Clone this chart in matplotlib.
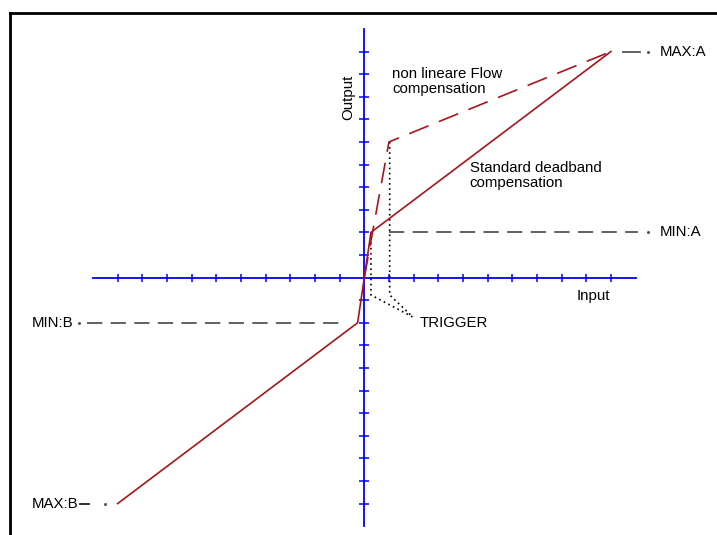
import matplotlib
matplotlib.use("Agg")
import matplotlib.pyplot as plt
import numpy as np

plt.rcParams['font.family'] = ['Liberation Sans', 'DejaVu Sans']
plt.rcParams['lines.scale_dashes'] = False

# Data (in axis units)
x_ticks = [-10, -9, -8, -7, -6, -5, -4, -3, -2, -1, 1, 2, 3, 4, 5, 6, 7, 8, 9, 10]
y_ticks = [-10, -9, -8, -7, -6, -5, -4, -3, -2, -1, 1, 2, 3, 4, 5, 6, 7, 8, 9, 10]

standard_x = [-10, -0.27, 0.27, 10]
standard_y = [-10, -2, 2, 10]

nonlinear_x = [0, 1, 10]
nonlinear_y = [0, 6, 10]

min_a_x = [1, 11.1]
min_a_y = [2, 2]
min_b_x = [-11.24, -0.99]
min_b_y = [-2, -2]

trig_left_x = [0.27, 0.27, 1.97]
trig_left_y = [2, -0.77, -1.75]
trig_right_x = [1.03, 1.03, 1.97]
trig_right_y = [6, -0.77, -1.75]

labels = ["MAX:A", "MIN:A", "MIN:B", "MAX:B"]

fig = plt.figure(figsize=(7.17, 5.35), dpi=100)
ax = fig.add_axes([0, 0, 1, 1])
ax.set_xlim(-14.77, 14.30)
ax.set_ylim(-11.39, 12.28)
ax.axis('off')

blue = '#0000ff'
red = '#a8141e'
gray = '#555555'

# axes
ax.plot([-11, 11], [0, 0], color=blue, lw=1.3, zorder=2)
ax.plot([0, 0], [-11, 11], color=blue, lw=1.3, zorder=2)
ax.plot(x_ticks, [0] * len(x_ticks), ls='none', marker='|', ms=6, mew=1.1, color=blue, zorder=2)
ax.plot([0] * len(y_ticks), y_ticks, ls='none', marker='_', ms=7, mew=1.1, color=blue, zorder=2)

# curves
ax.plot(standard_x, standard_y, color=red, lw=1.2, zorder=4)
ax.plot(nonlinear_x, nonlinear_y, color=red, lw=1.2, ls=(0, (15, 8)), zorder=4)

# reference dashed lines
ax.plot(min_a_x, min_a_y, color=gray, lw=1.3, ls=(0, (11, 6)), zorder=3)
ax.plot([11.5], [2], 'o', ms=1.2, color=gray)
ax.plot(min_b_x, min_b_y, color=gray, lw=1.3, ls=(0, (11, 6)), zorder=3)
ax.plot([-11.56], [-2], 'o', ms=1.2, color=gray)

ax.plot([10.49, 11.18], [10, 10], color=gray, lw=1.3)
ax.plot([11.5], [10], 'o', ms=1.2, color=gray)
ax.plot([-11.52, -11.16], [-10, -10], color='#222222', lw=1.3)
ax.plot([-10.5], [-10], 'o', ms=1.2, color=gray)

# trigger dotted lines
ax.plot(trig_left_x, trig_left_y, color='black', lw=1.2, ls=(0, (1.2, 2.5)), zorder=3)
ax.plot(trig_right_x, trig_right_y, color='black', lw=1.2, ls=(0, (1.2, 2.5)), zorder=3)

fs = 10.8
ax.text(-0.66, 7.99, "Output", rotation=90, ha='center', va='center', fontsize=fs)
ax.text(1.12, 8.69, "non lineare Flow\ncompensation", ha='left', va='center', fontsize=fs, linespacing=1.1)
ax.text(4.28, 4.51, "Standard deadband\ncompensation", ha='left', va='center', fontsize=fs, linespacing=1.1)
ax.text(9.27, -0.82, "Input", ha='center', va='center', fontsize=fs)
ax.text(2.26, -2.01, "TRIGGER", ha='left', va='center', fontsize=fs)
ax.text(11.99, 10, labels[0], ha='left', va='center', fontsize=fs)
ax.text(11.99, 2, labels[1], ha='left', va='center', fontsize=fs)
ax.text(-13.47, -2, labels[2], ha='left', va='center', fontsize=fs)
ax.text(-13.47, -10, labels[3], ha='left', va='center', fontsize=fs)

# frame lines (top and left)
ax.plot([9.5 / 717, 1.0], [1 - 13 / 535, 1 - 13 / 535], color='black', lw=2, transform=ax.transAxes, clip_on=False)
ax.plot([9.5 / 717, 9.5 / 717], [0, 1 - 13 / 535], color='black', lw=2, transform=ax.transAxes, clip_on=False)

fig.savefig("out.png", dpi=100)
